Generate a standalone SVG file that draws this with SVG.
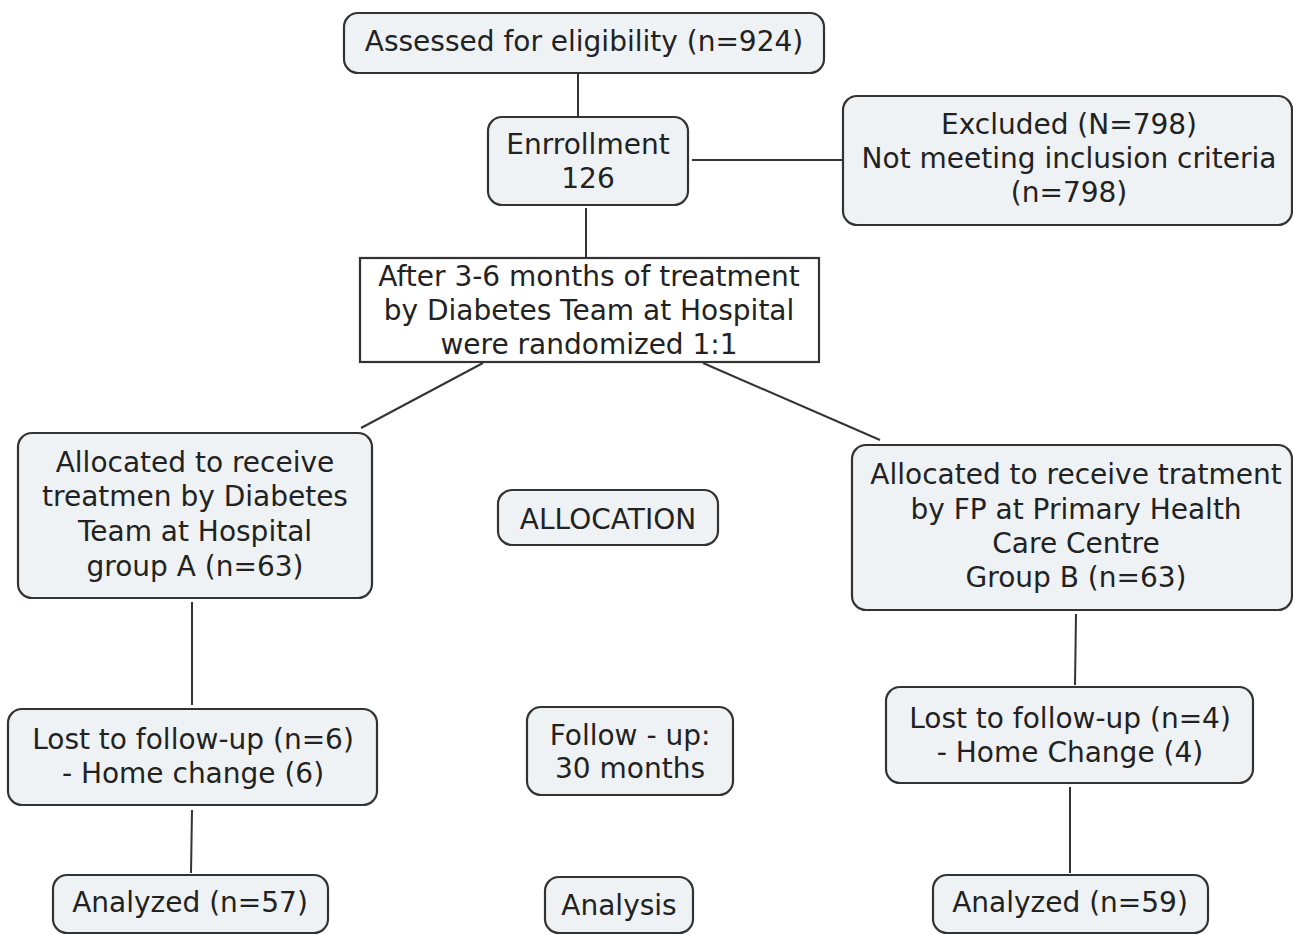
<svg xmlns="http://www.w3.org/2000/svg" width="1293" height="935" viewBox="0 0 1293 935">
<style>
.box{fill:#eef2f5;stroke:#333;stroke-width:2.2}
.sq{fill:#ffffff;stroke:#333;stroke-width:2.2}
.t{font-family:"DejaVu Sans",Verdana,sans-serif;font-size:28px;fill:#222;text-anchor:middle}
.c{stroke:#333;stroke-width:2;fill:none}
</style>
<rect width="1293" height="935" fill="#ffffff"/>
<g id="connectors">
<line class="c" x1="578" y1="73" x2="578" y2="117"/>
<line class="c" x1="692" y1="160" x2="843" y2="160"/>
<line class="c" x1="586" y1="208" x2="586" y2="258"/>
<line class="c" x1="483" y1="363" x2="361" y2="428"/>
<line class="c" x1="703" y1="363" x2="880" y2="440"/>
<line class="c" x1="192" y1="602" x2="192" y2="705"/>
<line class="c" x1="192" y1="810" x2="191" y2="873"/>
<line class="c" x1="1076" y1="614" x2="1075" y2="685"/>
<line class="c" x1="1070" y1="787" x2="1070" y2="873"/>
</g>
<g id="n-assessed">
<rect class="box" x="344" y="13" width="480" height="60" rx="14"/>
<text class="t" x="584" y="51">Assessed for eligibility (n=924)</text>
</g>
<g id="n-enrollment">
<rect class="box" x="488" y="117" width="200" height="88" rx="14"/>
<text class="t" x="588" y="154">Enrrollment</text>
<text class="t" x="588" y="188">126</text>
</g>
<g id="n-excluded">
<rect class="box" x="843" y="96" width="449" height="129" rx="14"/>
<text class="t" x="1069" y="134">Excluded (N=798)</text>
<text class="t" x="1069" y="168">Not meeting inclusion criteria</text>
<text class="t" x="1069" y="202">(n=798)</text>
</g>
<g id="n-randomized">
<rect class="sq" x="360" y="258" width="459" height="104"/>
<text class="t" x="589" y="286">After 3-6 months of treatment</text>
<text class="t" x="589" y="320">by Diabetes Team at Hospital</text>
<text class="t" x="589" y="354">were randomized 1:1</text>
</g>
<g id="n-groupA">
<rect class="box" x="18" y="433" width="354" height="165" rx="14"/>
<text class="t" x="195" y="472">Allocated to receive</text>
<text class="t" x="195" y="506">treatmen by Diabetes</text>
<text class="t" x="195" y="541">Team at Hospital</text>
<text class="t" x="195" y="576">group A (n=63)</text>
</g>
<g id="n-allocation">
<rect class="box" x="498" y="490" width="220" height="55" rx="14"/>
<text class="t" x="608" y="529">ALLOCATION</text>
</g>
<g id="n-groupB">
<rect class="box" x="852" y="445" width="440" height="165" rx="14"/>
<text class="t" x="1076" y="484">Allocated to receive tratment</text>
<text class="t" x="1076" y="519">by FP at Primary Health</text>
<text class="t" x="1076" y="553">Care Centre</text>
<text class="t" x="1076" y="587">Group B (n=63)</text>
</g>
<g id="n-lostA">
<rect class="box" x="8" y="709" width="369" height="96" rx="14"/>
<text class="t" x="193" y="749">Lost to follow-up (n=6)</text>
<text class="t" x="193" y="783">- Home change (6)</text>
</g>
<g id="n-followup">
<rect class="box" x="527" y="707" width="206" height="88" rx="14"/>
<text class="t" x="630" y="745">Follow - up:</text>
<text class="t" x="630" y="778">30 months</text>
</g>
<g id="n-lostB">
<rect class="box" x="886" y="687" width="367" height="96" rx="14"/>
<text class="t" x="1070" y="728">Lost to follow-up (n=4)</text>
<text class="t" x="1070" y="762">- Home Change (4)</text>
</g>
<g id="n-analyzedA">
<rect class="box" x="53" y="875" width="275" height="58" rx="14"/>
<text class="t" x="190" y="912">Analyzed (n=57)</text>
</g>
<g id="n-analysis">
<rect class="box" x="545" y="877" width="148" height="56" rx="14"/>
<text class="t" x="619" y="915">Analysis</text>
</g>
<g id="n-analyzedB">
<rect class="box" x="933" y="875" width="275" height="58" rx="14"/>
<text class="t" x="1070" y="912">Analyzed (n=59)</text>
</g>
</svg>
